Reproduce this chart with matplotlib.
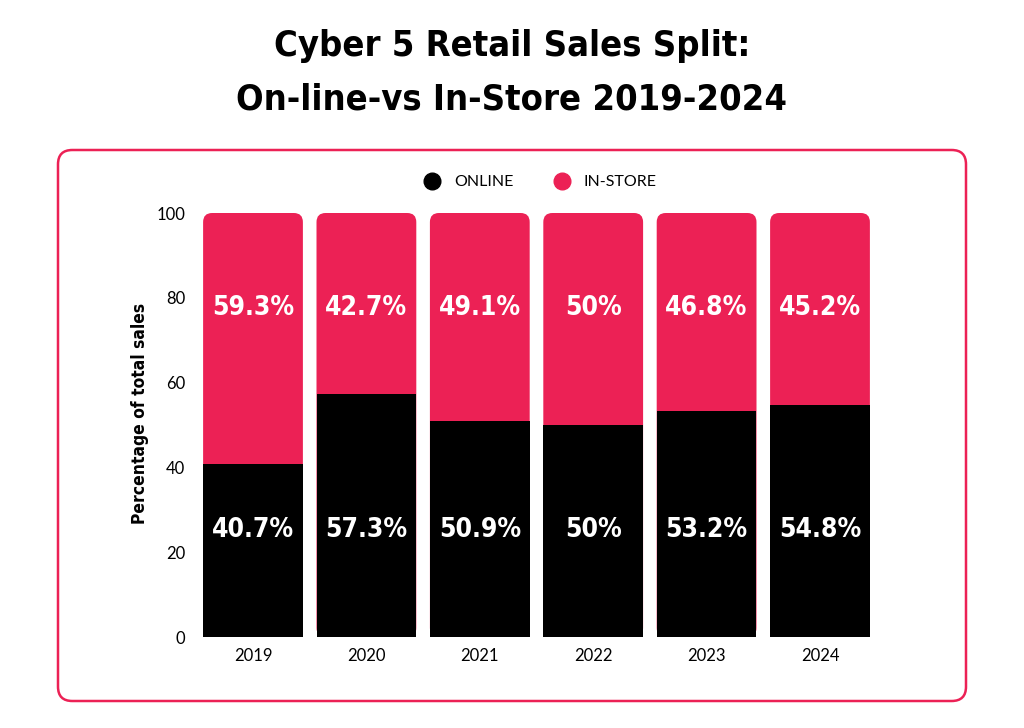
import matplotlib.pyplot as plt
from matplotlib.patches import FancyBboxPatch
from matplotlib.lines import Line2D
import numpy as np

years = ["2019", "2020", "2021", "2022", "2023", "2024"]
online = [40.7, 57.3, 50.9, 50.0, 53.2, 54.8]
in_store = [59.3, 42.7, 49.1, 50.0, 46.8, 45.2]
online_labels = ["40.7%", "57.3%", "50.9%", "50%", "53.2%", "54.8%"]
store_labels = ["59.3%", "42.7%", "49.1%", "50%", "46.8%", "45.2%"]

PINK = "#EC2155"
BLACK = "#000000"
COND = ["DejaVu Sans"]
BODY = ["Lato", "DejaVu Sans"]

fig = plt.figure(figsize=(10.24, 7.28), dpi=100)

# rounded frame round the chart
frame = FancyBboxPatch((58 / 1024, 1 - 701 / 728), (966 - 58) / 1024, (701 - 150) / 728,
                       boxstyle="round,pad=0,rounding_size=0.014",
                       transform=fig.transFigure, fc="none", ec=PINK, lw=1.8,
                       mutation_aspect=1024 / 728, zorder=-1)
fig.patches.append(frame)

fig.text(0.5, 1 - 46 / 728, "Cyber 5 Retail Sales Split:", ha="center", va="center",
         fontsize=26, fontweight="bold", family=COND, fontstretch="condensed")
fig.text(0.5, 1 - 99 / 728, "On-line-vs In-Store 2019-2024", ha="center", va="center",
         fontsize=26, fontweight="bold", family=COND, fontstretch="condensed")

ax = fig.add_axes([196.3 / 1024, 91 / 728, 680.4 / 1024, 424 / 728])
ax.set_facecolor("none")
x = np.arange(len(years))
w = 0.88
total = np.array(online) + np.array(in_store)

# pink bars drawn full height with rounded corners, black bars over them
bars = ax.bar(x, total, width=w, color=PINK)
for b in bars:
    b.set_visible(False)
    p = FancyBboxPatch((b.get_x(), b.get_y()), b.get_width(), b.get_height(),
                       boxstyle="round,pad=0,rounding_size=0.08",
                       mutation_aspect=26.7, fc=PINK, ec="none")
    ax.add_patch(p)
ax.bar(x, online, width=w, color=BLACK, zorder=3)

for i in range(len(years)):
    ax.text(x[i], 25.2, online_labels[i], ha="center", va="center", color="white",
            fontsize=19, fontweight="bold", family=COND, fontstretch="condensed", zorder=4)
    ax.text(x[i], 77.6, store_labels[i], ha="center", va="center", color="white",
            fontsize=19, fontweight="bold", family=COND, fontstretch="condensed", zorder=4)

ax.set_xlim(-0.5, 5.5)
ax.set_ylim(0, 100)
ax.set_xticks(x)
ax.set_xticklabels(years)
ax.set_yticks([0, 20, 40, 60, 80, 100])
for s in ax.spines.values():
    s.set_visible(False)
ax.tick_params(length=0, labelsize=12, pad=8)
for t in ax.get_xticklabels() + ax.get_yticklabels():
    t.set_family(BODY)
ax.set_ylabel("Percentage of total sales", fontsize=12.5, fontweight="bold",
              family=COND, fontstretch="condensed")
ax.yaxis.set_label_coords(-0.07, 0.528)

handles = [Line2D([], [], marker="o", ls="none", color=BLACK, markersize=12),
           Line2D([], [], marker="o", ls="none", color=PINK, markersize=12)]
leg = ax.legend(handles, ["ONLINE", "IN-STORE"], loc="center", ncol=2,
                bbox_to_anchor=(0.5, 1.073), frameon=False, handletextpad=0.4,
                columnspacing=2.0, prop={"family": BODY, "size": 11.5})

fig.savefig("out.png", dpi=100)
